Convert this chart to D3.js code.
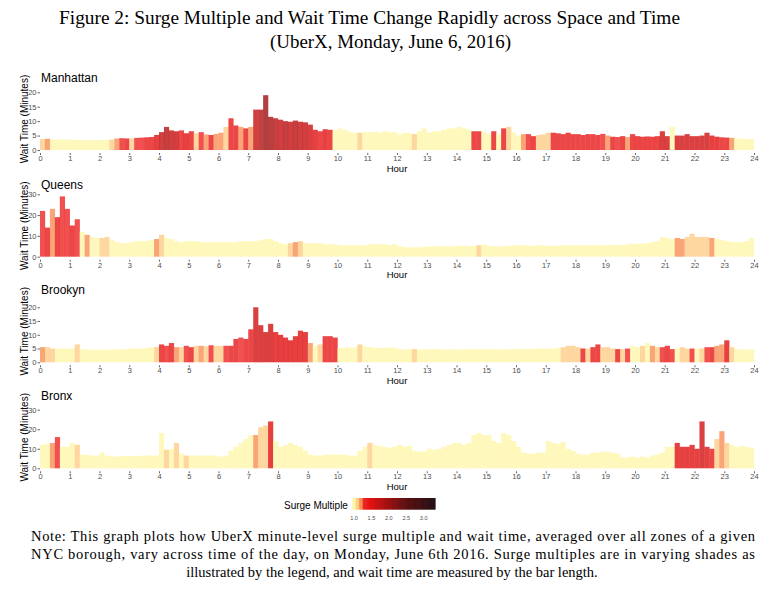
<!DOCTYPE html>
<html>
<head>
<meta charset="utf-8">
<script src="https://cdn.jsdelivr.net/npm/d3@7"></script>
<style>
  body { margin: 0; background: #fff; }
  svg text { font-family: "Liberation Sans", Arial, sans-serif; }
  .serif { font-family: "Liberation Serif", "Times New Roman", serif !important; }
</style>
</head>
<body>
<div class="Chart"></div>
<script>
// 10-minute bins, 6 per hour, hour 0 .. 23 (one row per hour)
const hourTicks = d3.range(0, 25);
const boroughs = ["Manhattan", "Queens", "Brookyn", "Bronx"];

const manhattanWait = [
  3.8, 3.9, 3.6, 3.6, 3.6, 3.6,
  3.6, 3.5, 3.4, 3.4, 3.4, 3.5,
  3.5, 3.5, 3.6, 4.0, 4.1, 4.0,
  4.0, 4.2, 4.3, 4.4, 4.5, 5.2,
  6.2, 8.0, 6.8, 6.5, 6.8, 5.8,
  6.5, 5.8, 6.2, 5.4, 5.2, 5.6,
  6.0, 8.0, 11.0, 8.5, 8.0, 7.5,
  8.0, 14.0, 14.0, 19.0, 11.5, 11.0,
  10.5, 10.0, 9.8, 10.2, 9.8, 9.6,
  8.8, 7.0, 6.5, 7.2, 7.0, 6.8,
  7.5, 7.0, 6.2, 6.0, 6.0, 6.2,
  6.2, 6.3, 6.0, 6.5, 6.2, 6.2,
  5.5, 6.0, 5.8, 5.5, 6.5, 7.5,
  6.0, 6.5, 6.5, 7.0, 7.5, 7.5,
  8.0, 7.5, 7.0, 6.5, 6.5, 6.5,
  5.5, 6.5, 5.5, 7.5, 8.0, 6.0,
  5.0, 5.5, 5.5, 4.8, 5.2, 5.4,
  6.0, 6.0, 5.8, 5.5, 6.0, 5.5,
  5.5, 5.2, 5.5, 5.5, 5.2, 5.6,
  5.0, 4.6, 4.5, 4.8, 4.5, 5.5,
  4.8, 4.6, 4.7, 4.6, 4.8, 6.5,
  4.8, 8.0, 5.0, 5.0, 5.5, 4.8,
  4.8, 5.0, 6.0, 5.0, 4.6, 4.4,
  4.3, 4.2, 4.0, 4.0, 3.8, 3.8
];
const manhattanSurge = [
  1.1, 1.2, 1.0, 1.0, 1.0, 1.0,
  1.0, 1.0, 1.0, 1.0, 1.0, 1.0,
  1.0, 1.0, 1.1, 1.2, 1.3, 1.4,
  1.1, 1.3, 1.3, 1.4, 1.4, 1.5,
  1.7, 1.8, 1.7, 1.7, 1.4, 1.5,
  1.4, 1.1, 1.3, 1.2, 1.4, 1.2,
  1.2, 1.1, 1.4, 1.4, 1.2, 1.4,
  1.2, 1.7, 1.8, 2.0, 1.9, 1.8,
  1.7, 1.8, 1.7, 1.8, 1.7, 1.7,
  1.6, 1.5, 1.4, 1.5, 1.4, 1.0,
  1.0, 1.0, 1.0, 1.0, 1.1, 1.0,
  1.0, 1.0, 1.0, 1.0, 1.0, 1.0,
  1.0, 1.0, 1.0, 1.1, 1.0, 1.0,
  1.0, 1.0, 1.0, 1.0, 1.0, 1.0,
  1.0, 1.0, 1.0, 1.4, 1.4, 1.0,
  1.0, 1.4, 1.0, 1.4, 1.1, 1.0,
  1.0, 1.2, 1.3, 1.4, 1.1, 1.1,
  1.1, 1.4, 1.4, 1.4, 1.4, 1.4,
  1.4, 1.4, 1.4, 1.4, 1.4, 1.3,
  1.2, 1.4, 1.3, 1.4, 1.2, 1.4,
  1.4, 1.4, 1.4, 1.4, 1.4, 1.6,
  1.6, 1.0, 1.6, 1.6, 1.6, 1.6,
  1.6, 1.6, 1.6, 1.5, 1.5, 1.4,
  1.4, 1.2, 1.0, 1.0, 1.0, 1.0
];

const queensWait = [
  22, 14, 23, 19, 29, 23,
  15, 18, 12, 10.5, 9.5, 9,
  9, 9.5, 8, 7, 6.5, 6.5,
  7, 7.5, 7.5, 7.5, 8, 8.5,
  10.5, 9, 8.5, 7.5, 7, 7.5,
  7.5, 7.5, 7, 7, 7, 7,
  7, 7, 7, 7, 7.5, 7.5,
  7.5, 7.5, 8, 8.5, 8.5, 7.5,
  6.5, 6, 6.5, 7, 7.5, 6.5,
  6.5, 6.5, 6.5, 6, 6, 6,
  5.5, 5.5, 5.5, 5.5, 5.5, 5.5,
  6, 6, 6, 6, 5.5, 6,
  5, 4.6, 4.5, 4.6, 4.5, 4.7,
  5, 5, 5, 5, 5, 5,
  5.2, 5.2, 5.2, 5.2, 5.5, 5.8,
  5.2, 5, 5, 5, 5.2, 5.4,
  5.5, 5.5, 5.3, 5.3, 5.5, 5.5,
  5.2, 5.2, 5.3, 5.4, 5.5, 5.5,
  5.5, 5.5, 5.5, 5.5, 5.5, 5.6,
  5.5, 5.6, 5.8, 5.6, 6, 6.2,
  6.2, 6.3, 6.5, 7, 7.5, 9.5,
  9, 8.5, 9, 8.5, 9.5, 11,
  9.5, 9.5, 9.5, 9, 8.5, 8,
  7.5, 7.2, 7, 7, 7.5, 9
];
const queensSurge = [
  1.3, 1.4, 1.2, 1.4, 1.3, 1.3,
  1.4, 1.3, 1.0, 1.2, 1.0, 1.0,
  1.1, 1.1, 1.0, 1.0, 1.0, 1.0,
  1.0, 1.0, 1.0, 1.0, 1.0, 1.2,
  1.1, 1.0, 1.0, 1.0, 1.0, 1.0,
  1.0, 1.0, 1.0, 1.0, 1.0, 1.0,
  1.0, 1.0, 1.0, 1.0, 1.0, 1.0,
  1.0, 1.0, 1.0, 1.0, 1.0, 1.0,
  1.0, 1.0, 1.1, 1.2, 1.1, 1.0,
  1.0, 1.0, 1.0, 1.0, 1.0, 1.0,
  1.0, 1.0, 1.0, 1.0, 1.0, 1.0,
  1.0, 1.0, 1.0, 1.0, 1.0, 1.0,
  1.0, 1.0, 1.0, 1.0, 1.0, 1.0,
  1.0, 1.0, 1.0, 1.0, 1.0, 1.0,
  1.0, 1.0, 1.0, 1.0, 1.1, 1.0,
  1.0, 1.0, 1.0, 1.0, 1.0, 1.0,
  1.0, 1.0, 1.0, 1.0, 1.0, 1.0,
  1.0, 1.0, 1.0, 1.0, 1.0, 1.0,
  1.0, 1.0, 1.0, 1.0, 1.0, 1.0,
  1.0, 1.0, 1.0, 1.0, 1.0, 1.0,
  1.0, 1.0, 1.0, 1.0, 1.0, 1.0,
  1.0, 1.0, 1.2, 1.2, 1.1, 1.1,
  1.1, 1.1, 1.1, 1.2, 1.0, 1.0,
  1.0, 1.0, 1.0, 1.0, 1.0, 1.0
];

const brooklynWait = [
  5.5, 5.5, 5, 5, 5, 5,
  5, 6.5, 4.8, 4.6, 4.6, 4.6,
  4.6, 4.6, 4.6, 4.7, 4.7, 4.8,
  5, 5, 5, 5.2, 5.5, 5.5,
  6.5, 6, 7, 5.5, 5.5, 6,
  5.5, 6, 6, 5.8, 6.2, 6,
  6, 6, 6, 8.5, 9, 8.5,
  12, 20, 13.5, 11, 14, 11,
  10, 9, 8, 9.5, 11.5, 11,
  7, 6, 6.5, 9.5, 9.5, 9,
  5.2, 5.3, 5.4, 5.4, 6.5, 5.8,
  5.5, 5.3, 5.3, 5.2, 5.4, 5.3,
  4.8, 4.6, 4.8, 4.8, 4.6, 4.8,
  4.7, 4.8, 4.8, 4.6, 4.7, 4.7,
  4.6, 4.7, 4.8, 4.8, 4.7, 4.8,
  4.8, 4.7, 4.6, 4.8, 4.7, 4.8,
  4.9, 4.8, 4.8, 4.9, 5, 5,
  5, 5, 5.2, 5.5, 6, 6,
  5.5, 5, 5, 5.5, 6.5, 5.5,
  5.5, 5, 4.8, 4.8, 5, 6,
  5.5, 6, 7, 6, 5.5, 5.5,
  6, 4.8, 5, 5.5, 5, 5,
  5, 5, 5.5, 5.5, 6, 6.5,
  8, 5.5, 4.8, 4.6, 4.6, 4.8
];
const brooklynSurge = [
  1.2, 1.1, 1.1, 1.0, 1.0, 1.0,
  1.0, 1.1, 1.0, 1.0, 1.0, 1.0,
  1.0, 1.0, 1.0, 1.0, 1.0, 1.0,
  1.0, 1.0, 1.0, 1.0, 1.0, 1.1,
  1.4, 1.3, 1.4, 1.2, 1.1, 1.3,
  1.4, 1.1, 1.2, 1.1, 1.3, 1.1,
  1.1, 1.3, 1.4, 1.4, 1.3, 1.4,
  1.4, 1.6, 1.6, 1.6, 1.6, 1.5,
  1.5, 1.5, 1.5, 1.5, 1.5, 1.5,
  1.2, 1.0, 1.1, 1.4, 1.4, 1.4,
  1.0, 1.0, 1.0, 1.0, 1.1, 1.0,
  1.0, 1.0, 1.0, 1.0, 1.0, 1.0,
  1.0, 1.0, 1.0, 1.1, 1.0, 1.0,
  1.0, 1.0, 1.0, 1.0, 1.0, 1.0,
  1.0, 1.0, 1.0, 1.0, 1.0, 1.0,
  1.0, 1.0, 1.0, 1.0, 1.0, 1.0,
  1.0, 1.0, 1.0, 1.0, 1.0, 1.0,
  1.0, 1.0, 1.0, 1.1, 1.1, 1.1,
  1.1, 1.4, 1.1, 1.4, 1.4, 1.1,
  1.1, 1.1, 1.4, 1.1, 1.3, 1.0,
  1.0, 1.1, 1.0, 1.2, 1.1, 1.3,
  1.4, 1.3, 1.0, 1.1, 1.1, 1.3,
  1.0, 1.1, 1.3, 1.4, 1.2, 1.2,
  1.5, 1.1, 1.0, 1.0, 1.0, 1.0
];

const bronxWait = [
  12, 12.5, 13, 16, 11, 11,
  13, 12, 7, 7, 6.5, 6.5,
  8, 6.5, 6, 6, 6.2, 6.2,
  6.2, 6.3, 6.5, 6.5, 6.5, 6.5,
  18, 9.5, 10, 13, 7.5, 6.5,
  6.5, 6.5, 6.5, 6.5, 6.5, 6.5,
  6, 6.5, 9, 11, 13, 15,
  17, 17, 21, 22, 24, 14,
  11, 12, 13, 12, 11, 9,
  7, 6.5, 6.5, 7, 7, 7,
  7, 7, 6.5, 6.5, 9, 11,
  13, 12, 11.5, 11, 10.5, 11,
  12, 11, 11.5, 9, 8.5, 8.5,
  10, 9.5, 10, 11, 12, 13,
  13, 12, 13, 17, 18, 17,
  17, 14, 13, 18, 17, 14,
  11, 8, 7.5, 7.5, 8, 8,
  14, 13, 12.5, 13.5, 10, 9,
  7.5, 7, 7, 8, 8, 8.5,
  8.5, 8, 7.5, 5.5, 5.5, 6,
  5.5, 6, 5.5, 6.5, 7, 8,
  11, 11, 13, 11, 11, 12,
  10, 24, 11, 10, 15, 19,
  13, 12, 11, 11.5, 11, 10.5
];
const bronxSurge = [
  1.0, 1.0, 1.2, 1.3, 1.0, 1.0,
  1.0, 1.1, 1.0, 1.0, 1.0, 1.0,
  1.0, 1.0, 1.0, 1.0, 1.0, 1.0,
  1.0, 1.0, 1.0, 1.0, 1.0, 1.0,
  1.0, 1.1, 1.0, 1.1, 1.0, 1.1,
  1.0, 1.0, 1.0, 1.0, 1.0, 1.0,
  1.0, 1.0, 1.0, 1.0, 1.0, 1.0,
  1.0, 1.2, 1.1, 1.1, 1.5, 1.0,
  1.0, 1.0, 1.0, 1.0, 1.0, 1.0,
  1.0, 1.0, 1.0, 1.0, 1.0, 1.0,
  1.0, 1.0, 1.0, 1.0, 1.0, 1.0,
  1.1, 1.0, 1.0, 1.0, 1.0, 1.0,
  1.0, 1.0, 1.0, 1.0, 1.0, 1.0,
  1.0, 1.0, 1.0, 1.0, 1.0, 1.0,
  1.0, 1.0, 1.0, 1.0, 1.0, 1.0,
  1.0, 1.0, 1.0, 1.0, 1.0, 1.0,
  1.0, 1.0, 1.0, 1.0, 1.0, 1.0,
  1.0, 1.0, 1.0, 1.0, 1.0, 1.0,
  1.0, 1.0, 1.0, 1.0, 1.0, 1.0,
  1.0, 1.0, 1.0, 1.0, 1.0, 1.0,
  1.0, 1.0, 1.0, 1.0, 1.0, 1.0,
  1.0, 1.0, 1.5, 1.5, 1.5, 1.5,
  1.5, 1.6, 1.5, 1.4, 1.1, 1.2,
  1.1, 1.0, 1.0, 1.0, 1.0, 1.0
];

const manhattanTicks = [0, 5, 10, 15, 20];
const queensTicks = [0, 10, 20, 30];
const brooklynTicks = [0, 5, 10, 15, 20];
const bronxTicks = [0, 10, 20, 30];
const legendTicks = [1.0, 1.5, 2.0, 2.5, 3.0];

const titleLines = [
  "Figure 2: Surge Multiple and Wait Time Change Rapidly across Space and Time",
  "(UberX, Monday, June 6, 2016)"
];
const noteLines = [
  "Note: This graph plots how UberX minute-level surge multiple and wait time, averaged over all zones of a given",
  "NYC borough, vary across time of the day, on Monday, June 6th 2016. Surge multiples are in varying shades as",
  "illustrated by the legend, and wait time are measured by the bar length."
];

const width = 784, height = 592;
const binsPerHour = 6;

const redScale = d3.scaleLinear()
  .domain([1.25, 1.5, 2.0, 2.5, 3.3])
  .range(["#f01a1a", "#dd0000", "#950000", "#500000", "#180008"]);

function surgeColor(s) {
  if (s < 1.05) return "#fff6a6";
  if (s < 1.15) return "#fdc980";
  if (s < 1.25) return "#f7874a";
  return redScale(s);
}

const svg = d3.select(".Chart")
  .append("svg")
  .attr("width", width)
  .attr("height", height);

const x = d3.scaleLinear().domain([0, 24]).range([40, 754]);

// title
svg.selectAll(".title")
  .data(titleLines)
  .enter()
  .append("text")
  .attr("class", "serif")
  .attr("x", (d, i) => i === 0 ? 59 : 270)
  .attr("y", (d, i) => i === 0 ? 24 : 48)
  .attr("textLength", (d, i) => i === 0 ? 621 : 241)
  .attr("lengthAdjust", "spacingAndGlyphs")
  .style("font-size", "18px")
  .attr("fill", "#000")
  .text(d => d);

function drawPanel(name, wait, surge, ticks, zeroY, pxPerMin) {
  const yMax = d3.max(ticks) * 1.1;
  const y = d3.scaleLinear().domain([0, yMax]).range([zeroY, zeroY - yMax * pxPerMin]);

  const bins = wait.map((w, i) => ({ t: i / binsPerHour, wait: w, surge: surge[i] }));

  svg.append("g")
    .selectAll("rect")
    .data(bins)
    .enter()
    .append("rect")
    .attr("x", d => x(d.t))
    .attr("width", d => x(d.t + 1 / binsPerHour) - x(d.t) + 0.2)
    .attr("y", d => y(d.wait))
    .attr("height", d => y(0) - y(d.wait))
    .attr("fill", d => surgeColor(d.surge))
    .attr("fill-opacity", 0.75);

  const yAxis = svg.append("g")
    .attr("transform", `translate(40,0)`)
    .call(d3.axisLeft(y).tickValues(ticks).tickSize(2.5).tickPadding(1));
  yAxis.select(".domain").remove();
  yAxis.selectAll("line").attr("stroke", "#666");
  yAxis.selectAll("text").attr("fill", "#4d4d4d").style("font-size", "7.5px");

  const xAxis = svg.append("g")
    .attr("transform", `translate(0,${zeroY + 3})`)
    .call(d3.axisBottom(x).tickValues(hourTicks).tickFormat(d3.format("d")).tickSize(2).tickPadding(0.5));
  xAxis.select(".domain").remove();
  xAxis.selectAll("line").attr("stroke", "#666");
  xAxis.selectAll("text").attr("fill", "#4d4d4d").style("font-size", "7.5px");

  svg.append("text")
    .attr("x", 397)
    .attr("y", zeroY + 21.5)
    .attr("text-anchor", "middle")
    .style("font-size", "9.5px")
    .attr("fill", "#000")
    .text("Hour");

  svg.append("text")
    .attr("x", 41)
    .attr("y", zeroY - 68)
    .style("font-size", "12px")
    .attr("fill", "#000")
    .text(name);

  svg.append("text")
    .attr("transform", `translate(28,${zeroY - 31}) rotate(-90)`)
    .attr("text-anchor", "middle")
    .style("font-size", "10px")
    .attr("fill", "#000")
    .text("Wait Time (Minutes)");
}

drawPanel(boroughs[0], manhattanWait, manhattanSurge, manhattanTicks, 150, 2.885);
drawPanel(boroughs[1], queensWait, queensSurge, queensTicks, 256.7, 2.08);
drawPanel(boroughs[2], brooklynWait, brooklynSurge, brooklynTicks, 362.3, 2.75);
drawPanel(boroughs[3], bronxWait, bronxSurge, bronxTicks, 468.3, 1.953);

// legend
const lx = d3.scaleLinear().domain([1.0, 3.0]).range([354, 423.7]);
const legendSteps = d3.range(0.95, 3.33, 0.01);
svg.append("g")
  .selectAll("rect")
  .data(legendSteps)
  .enter()
  .append("rect")
  .attr("x", d => lx(d))
  .attr("width", lx(1.01) - lx(1.0) + 0.3)
  .attr("y", 498)
  .attr("height", 11.5)
  .attr("fill", d => surgeColor(d));

svg.append("g")
  .selectAll("text")
  .data(legendTicks)
  .enter()
  .append("text")
  .attr("x", d => lx(d))
  .attr("y", 519.5)
  .attr("text-anchor", "middle")
  .style("font-size", "5.5px")
  .attr("fill", "#4d4d4d")
  .text(d => d.toFixed(1));

svg.append("text")
  .attr("x", 284)
  .attr("y", 509)
  .style("font-size", "10px")
  .attr("fill", "#000")
  .text("Surge Multiple");

// note
svg.selectAll(".note")
  .data(noteLines)
  .enter()
  .append("text")
  .attr("class", "serif")
  .attr("x", (d, i) => i < 2 ? 31 : 392)
  .attr("y", (d, i) => 541 + i * 18)
  .attr("text-anchor", (d, i) => i < 2 ? "start" : "middle")
  .attr("textLength", (d, i) => i < 2 ? 724 : null)
  .attr("lengthAdjust", "spacing")
  .style("font-size", "14.5px")
  .attr("fill", "#000")
  .text(d => d);
</script>
</body>
</html>
